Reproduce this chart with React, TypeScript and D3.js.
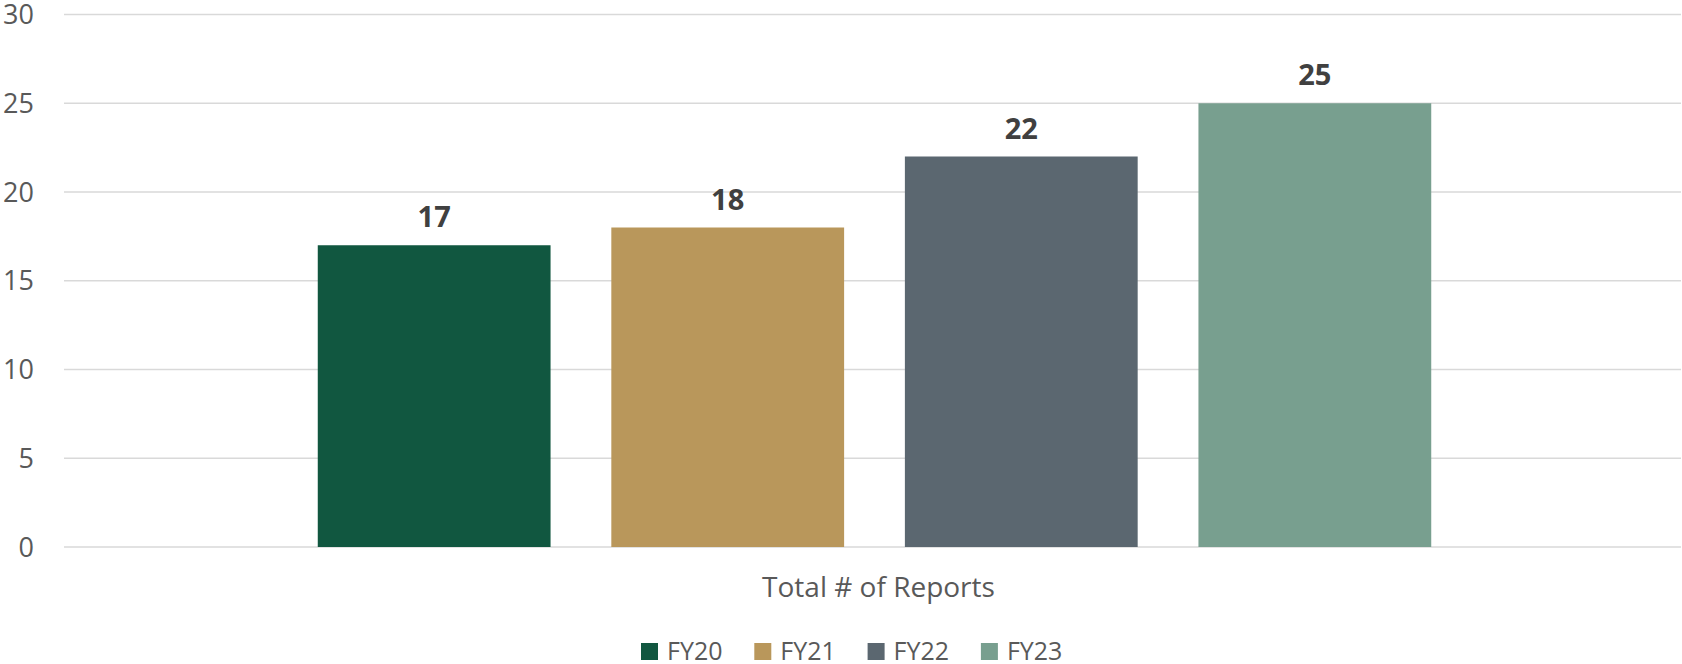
import { useEffect, useRef } from "react";
import * as d3 from "d3";

const categories = ["Total # of Reports"];
const seriesNames = ["FY20", "FY21", "FY22", "FY23"];
const seriesValues = [17, 18, 22, 25];
const seriesColors = ["#115740", "#B9975B", "#5B6770", "#789F8F"];
const yTicks = [0, 5, 10, 15, 20, 25, 30];

const App = () => {
  const svgRef = useRef<SVGSVGElement>(null);

  useEffect(() => {
    const width = 1682;
    const height = 664;
    const margin = { top: 14.5, right: 1, bottom: 117, left: 64 };
    const font = "'Open Sans', 'DejaVu Sans', sans-serif";

    const svg = d3.select(svgRef.current);
    svg.selectAll("*").remove();

    const y = d3.scaleLinear()
      .domain([0, 30])
      .range([height - margin.bottom, margin.top]);

    // category band, a touch wider on the right like the original
    const x0 = d3.scaleBand()
      .domain(categories)
      .range([margin.left, width + 3])
      .paddingOuter(0.2279)
      .paddingInner(0);

    const x1 = d3.scaleBand()
      .domain(seriesNames)
      .range([0, x0.bandwidth()])
      .paddingInner(0.207)
      .paddingOuter(0);

    // gridlines
    svg.append("g")
      .selectAll("line")
      .data(yTicks)
      .join("line")
      .attr("x1", margin.left)
      .attr("x2", width - margin.right)
      .attr("y1", d => y(d))
      .attr("y2", d => y(d))
      .attr("stroke", "#d9d9d9")
      .attr("stroke-width", 1.6);

    // y tick labels
    svg.append("g")
      .selectAll("text")
      .data(yTicks)
      .join("text")
      .attr("x", 34)
      .attr("y", d => y(d))
      .attr("dy", "0.36em")
      .attr("text-anchor", "end")
      .style("font-family", font)
      .style("font-size", "27px")
      .style("fill", "#595959")
      .text(d => d);

    const rows = seriesNames.map((name, i) => ({ name, value: seriesValues[i], color: seriesColors[i] }));

    const group = svg.append("g")
      .attr("transform", `translate(${x0(categories[0])},0)`);

    group.selectAll("rect")
      .data(rows)
      .join("rect")
      .attr("x", d => x1(d.name)!)
      .attr("width", x1.bandwidth())
      .attr("y", d => y(d.value))
      .attr("height", d => y(0) - y(d.value))
      .attr("fill", d => d.color);

    // data labels
    group.selectAll("text")
      .data(rows)
      .join("text")
      .attr("x", d => x1(d.name)! + x1.bandwidth() / 2)
      .attr("y", d => y(d.value) - 18)
      .attr("text-anchor", "middle")
      .style("font-family", font)
      .style("font-size", "29px")
      .style("font-weight", "bold")
      .style("fill", "#404040")
      .text(d => d.value);

    // category label
    svg.append("text")
      .attr("x", x0(categories[0])! + x0.bandwidth() / 2 + 4)
      .attr("y", 597)
      .attr("text-anchor", "middle")
      .style("font-family", font)
      .style("font-size", "28px")
      .style("fill", "#595959")
      .text(categories[0]);

    // legend
    const legend = svg.append("g").attr("transform", "translate(641,643)");
    const item = legend.selectAll("g")
      .data(rows)
      .join("g")
      .attr("transform", (d, i) => `translate(${i * 113.3},0)`);

    item.append("rect")
      .attr("width", 17)
      .attr("height", 17)
      .attr("fill", d => d.color);

    item.append("text")
      .attr("x", 26)
      .attr("y", 17)
      .style("font-family", font)
      .style("font-size", "25px")
      .style("fill", "#595959")
      .text(d => d.name);
  }, []);

  return (
    <div style={{ position: "absolute", left: 0, top: 0 }}>
      <svg ref={svgRef} width={1682} height={664} style={{ display: "block" }}></svg>
    </div>
  );
};

export default App;
